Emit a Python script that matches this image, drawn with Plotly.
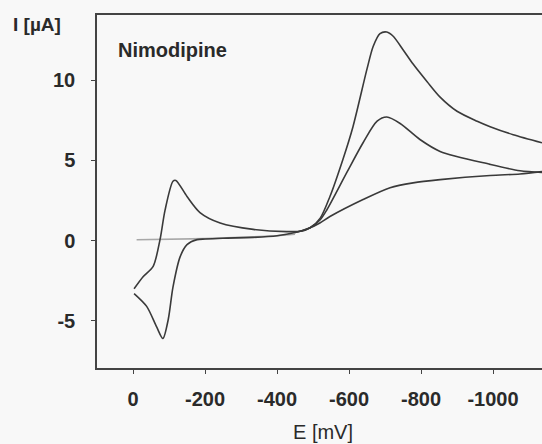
import plotly.graph_objects as go

# ---- data (E in mV, I in µA) ----
blank_E = [-10, -100, -200, -300, -400, -450]
blank_I = [0.05, 0.08, 0.12, 0.2, 0.3, 0.4]

scan1_fwd_E = [-450, -492, -520, -547, -583, -611, -650, -667, -686, -705, -722, -750, -778,
               -817, -853, -900, -956, -992, -1056, -1136]
scan1_fwd_I = [0.5, 0.8, 1.4, 2.75, 5.06, 7.1, 10.7, 12.1, 12.9, 13.0, 12.75, 11.9, 11.0,
               9.9, 8.94, 8.06, 7.44, 7.1, 6.6, 6.1]

reverse_E = [-1136, -1075, -992, -853, -778, -714, -639, -547, -519, -492, -450, -400, -334,
             -250, -200, -178, -150, -131, -111, -98, -83, -66, -38, -3]
reverse_I = [4.3, 4.15, 4.06, 3.8, 3.6, 3.3, 2.56, 1.5, 1.1, 0.8, 0.5, 0.3, 0.2,
             0.15, 0.1, 0.06, -0.25, -1.0, -2.9, -4.9, -6.1, -5.4, -4.1, -3.3]

scan2_fwd_E = [-3, -28, -56, -75, -89, -111, -119, -150, -186, -242, -334, -427, -470, -492,
               -520, -539, -594, -639, -678, -705, -742, -797, -853, -992, -1075, -1136]
scan2_fwd_I = [-3.0, -2.25, -1.6, 0.06, 1.9, 3.7, 3.75, 2.75, 1.75, 1.1, 0.7, 0.56, 0.6, 0.8,
               1.3, 1.94, 4.25, 6.1, 7.44, 7.7, 7.3, 6.3, 5.56, 4.75, 4.35, 4.25]

x_ticks = [0, -200, -400, -600, -800, -1000]
x_ticklabels = ["0", "-200", "-400", "-600", "-800", "-1000"]
y_ticks = [-5, 0, 5, 10]
y_ticklabels = ["-5", "0", "5", "10"]

FONT = "Liberation Sans, Arial, sans-serif"
INK = "#2a2a2a"

fig = go.Figure()
fig.add_trace(go.Scatter(x=blank_E, y=blank_I, mode="lines",
                         line=dict(color="#a8a8a8", width=1.6)))
for xs, ys in [(scan1_fwd_E, scan1_fwd_I), (reverse_E, reverse_I), (scan2_fwd_E, scan2_fwd_I)]:
    fig.add_trace(go.Scatter(x=xs, y=ys, mode="lines",
                             line=dict(color="#3a3a3a", width=1.6, shape="spline", smoothing=0.8)))

fig.update_layout(
    width=542, height=444,
    margin=dict(l=97, r=0, t=15, b=76, autoexpand=False),
    paper_bgcolor="#f8f8f8", plot_bgcolor="#f8f8f8",
    showlegend=False,
    font=dict(family=FONT, size=20, color=INK, weight="bold"),
    xaxis=dict(range=[100, -1136], tickvals=x_ticks, ticktext=x_ticklabels,
               showgrid=False, zeroline=False, showline=True, mirror=True,
               linecolor="#444", linewidth=1.5, ticks="outside", ticklen=4,
               tickcolor="#444", ticklabelstandoff=8, automargin=False,
               tickfont=dict(size=20, weight="bold")),
    yaxis=dict(range=[-7.94, 14.06], tickvals=y_ticks, ticktext=y_ticklabels,
               showgrid=False, zeroline=False, showline=True, mirror=False,
               linecolor="#444", linewidth=1.5, ticks="outside", ticklen=4,
               tickcolor="#444", ticklabelstandoff=12, automargin=False,
               tickfont=dict(size=20, weight="bold")),
    annotations=[
        dict(text="I [µA]", xref="paper", yref="paper", x=-0.135, y=0.972,
             showarrow=False, xanchor="center", yanchor="middle",
             font=dict(size=19, weight="bold")),
        dict(text="E [mV]", xref="paper", yref="paper", x=0.508, y=-0.181,
             showarrow=False, xanchor="center", yanchor="middle",
             font=dict(size=20, weight="normal")),
        dict(text="Nimodipine", xref="paper", yref="paper", x=0.169, y=0.901,
             showarrow=False, xanchor="center", yanchor="middle",
             font=dict(size=20, weight="bold")),
    ],
)

fig.write_html("out.html", config={"displayModeBar": False},
               post_script="document.body.style.margin='0';document.body.style.background='#f8f8f8';")
